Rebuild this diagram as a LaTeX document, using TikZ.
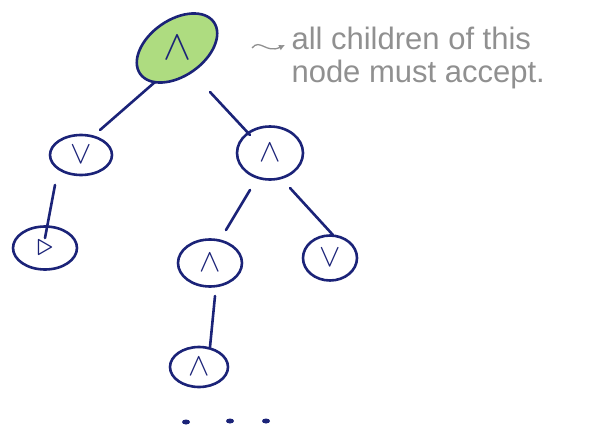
\documentclass[tikz,border=0pt]{standalone}
\usepackage{fontspec}
\usetikzlibrary{shapes.geometric,arrows.meta,calc}
\definecolor{ink}{HTML}{1B2378}
\definecolor{leaf}{HTML}{AEDC80}
\definecolor{pencil}{HTML}{909090}
\newfontfamily\notefont{Liberation Sans}
\newcommand{\sym}[1]{\scalebox{3.2}{$#1$}}
\tikzset{
  tnode/.style={ellipse, draw=ink, line width=2.6pt, inner sep=0pt, text=ink},
  edge/.style={draw=ink, line width=2.6pt, line cap=round},
  note/.style={font=\notefont\fontsize{31}{33}\selectfont, text=pencil, align=left, anchor=north west},
  dot/.style={ellipse, fill=ink, minimum width=8pt, minimum height=5pt, inner sep=0pt}
}
\begin{document}
\begin{tikzpicture}[x=1pt,y=-1pt]
\useasboundingbox (0,0) rectangle (592,431);
\node[tnode, fill=leaf, minimum width=90pt, minimum height=56pt, rotate=35] (root) at (177,48) {};
\node[text=ink] (rootsym) at (root) {\scalebox{4.2}{$\wedge$}};
\node[tnode, minimum width=62pt, minimum height=40pt] (l) at (81,155) {\sym{\vee}};
\node[tnode, minimum width=64pt, minimum height=43pt] (ll) at (45,248) {\sym{\triangleright}};
\node[tnode, minimum width=66pt, minimum height=53pt] (r) at (270,153) {\sym{\wedge}};
\node[tnode, minimum width=64pt, minimum height=47pt] (rl) at (210,263) {\sym{\wedge}};
\node[tnode, minimum width=54pt, minimum height=45pt] (rr) at (330,258) {\sym{\vee}};
\node[tnode, minimum width=58pt, minimum height=40pt] (rll) at (199,367) {\sym{\wedge}};
\draw[edge] ($(root)+(-22,34)$) -- ($(l)+(19,-25)$);
\draw[edge] ($(root)+(33,44)$) -- ($(r)+(-20,-18)$);
\draw[edge] ($(l)+(-26,30)$) -- ($(ll)+(0,-10)$);
\draw[edge] ($(r)+(-20,37)$) -- ($(rl)+(16,-33)$);
\draw[edge] ($(r)+(20,35)$) -- ($(rr)+(3,-23)$);
\draw[edge] ($(rl)+(5,33)$) -- ($(rll)+(11,-20)$);
\node[note] (txt) at (288,24) {all children of this\\node must accept.};
\coordinate (sq) at (252,48);
\draw[pencil, line width=1.3pt, -{Latex[length=6pt,width=6pt]}] (sq) .. controls (260,38) and (266,54) .. (285,45);
\node[dot] (d1) at (186,422) {};
\node[dot] (d2) at (230,421) {};
\node[dot] (d3) at (266,421) {};
\end{tikzpicture}
\end{document}
